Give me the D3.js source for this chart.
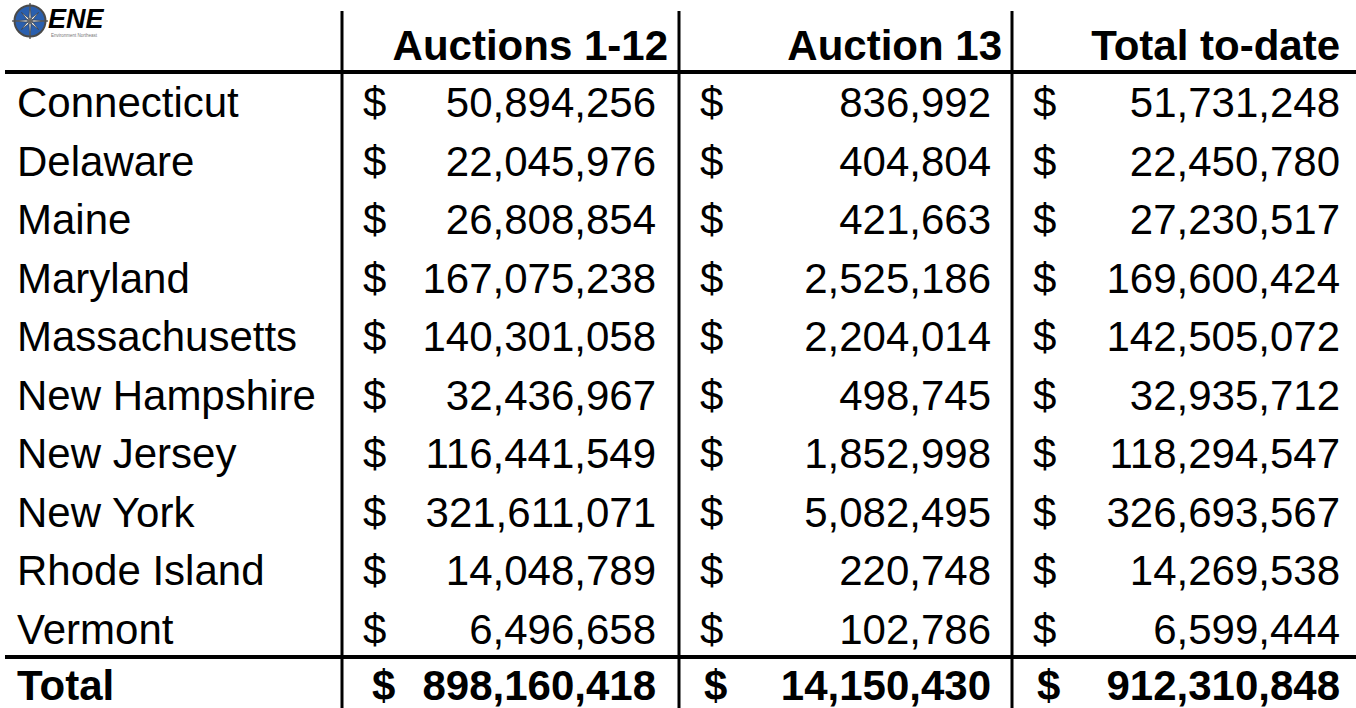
<!DOCTYPE html>
<html>
<head>
<meta charset="utf-8">
<script src="https://cdn.jsdelivr.net/npm/d3@7"></script>
<style>
  html, body { margin: 0; padding: 0; background: #fff; }
  svg { display: block; }
  text { font-family: "Liberation Sans", Arial, sans-serif; fill: #000; }
</style>
</head>
<body>
<div id="table"></div>
<script>
const states = ["Connecticut", "Delaware", "Maine", "Maryland", "Massachusetts",
  "New Hampshire", "New Jersey", "New York", "Rhode Island", "Vermont"];
const columns = ["Auctions 1-12", "Auction 13", "Total to-date"];
const auctions1to12 = [50894256, 22045976, 26808854, 167075238, 140301058,
  32436967, 116441549, 321611071, 14048789, 6496658];
const auction13 = [836992, 404804, 421663, 2525186, 2204014,
  498745, 1852998, 5082495, 220748, 102786];
const totalToDate = [51731248, 22450780, 27230517, 169600424, 142505072,
  32935712, 118294547, 326693567, 14269538, 6599444];
const totals = [898160418, 14150430, 912310848];

const width = 1356, height = 708;
const fmt = d3.format(",");

const svg = d3.select("#table").append("svg")
    .attr("width", width)
    .attr("height", height);

// row bands between the two heavy rules
const y = d3.scaleBand()
    .domain(states)
    .range([72, 657]);

// column borders, right edge of numbers and of headers
const colLeft = d3.scaleOrdinal().domain(columns).range([342, 679, 1012]);
const colRight = d3.scaleOrdinal().domain(columns).range([656, 991, 1340]);
const headRight = d3.scaleOrdinal().domain(columns).range([668, 1002, 1340]);
const dollarBold = d3.scaleOrdinal().domain(columns).range([30, 25, 25]);

function txt(g, x, yy, s, opts = {}) {
    return g.append("text")
        .attr("x", x)
        .attr("y", yy)
        .attr("text-anchor", opts.anchor || "start")
        .attr("font-size", opts.size || 42)
        .attr("font-weight", opts.bold ? "bold" : "normal")
        .text(s);
}

// header
const head = svg.append("g");
columns.forEach(c => txt(head, headRight(c), 60, c, { anchor: "end", bold: true, size: 42 }));

// logo
const logo = svg.append("g").attr("transform", "translate(30,21)");
logo.append("circle").attr("r", 15.5).attr("fill", "#2a5fae").attr("stroke", "#4a4a4a").attr("stroke-width", 2);
d3.range(8).forEach(i => {
    const a = i * Math.PI / 4 - Math.PI / 2, r = i % 2 ? 12 : 18, w = 0.25;
    const pts = [[0, 0],
        [Math.cos(a - w) * 4, Math.sin(a - w) * 4],
        [Math.cos(a) * r, Math.sin(a) * r],
        [Math.cos(a + w) * 4, Math.sin(a + w) * 4]];
    logo.append("path").attr("d", d3.line()(pts) + "Z")
        .attr("fill", "#ececec").attr("stroke", "#3a3a3a").attr("stroke-width", 0.7);
});
logo.append("circle").attr("r", 2.2).attr("fill", "#666");
svg.append("text").attr("x", 48).attr("y", 28)
    .attr("font-size", 27).attr("font-weight", "bold").attr("font-style", "italic")
    .text("ENE");
svg.append("text").attr("x", 51).attr("y", 37)
    .attr("font-size", 4.5).style("fill", "#777")
    .text("Environment Northeast");

// body rows
const rowsData = states.map((s, i) => ({
    state: s,
    vals: [auctions1to12[i], auction13[i], totalToDate[i]]
}));

const body = svg.append("g");
rowsData.forEach(d => {
    const yy = y(d.state) + 45;
    txt(body, 17, yy, d.state);
    columns.forEach((c, j) => {
        txt(body, colLeft(c) + 21, yy, "$");
        txt(body, colRight(c), yy, fmt(d.vals[j]), { anchor: "end" });
    });
});

// total row
const tot = svg.append("g");
const ty = 700;
txt(tot, 17, ty, "Total", { bold: true });
columns.forEach((c, j) => {
    txt(tot, colLeft(c) + dollarBold(c), ty, "$", { bold: true });
    txt(tot, colRight(c), ty, fmt(totals[j]), { anchor: "end", bold: true });
});

// rules
const rules = svg.append("g").attr("stroke", "#000");
[72, 657].forEach(v => rules.append("line")
    .attr("x1", 5).attr("x2", width).attr("y1", v).attr("y2", v)
    .attr("stroke-width", 4));
columns.forEach(c => rules.append("line")
    .attr("x1", colLeft(c)).attr("x2", colLeft(c))
    .attr("y1", 11).attr("y2", height)
    .attr("stroke-width", 3));
</script>
</body>
</html>
